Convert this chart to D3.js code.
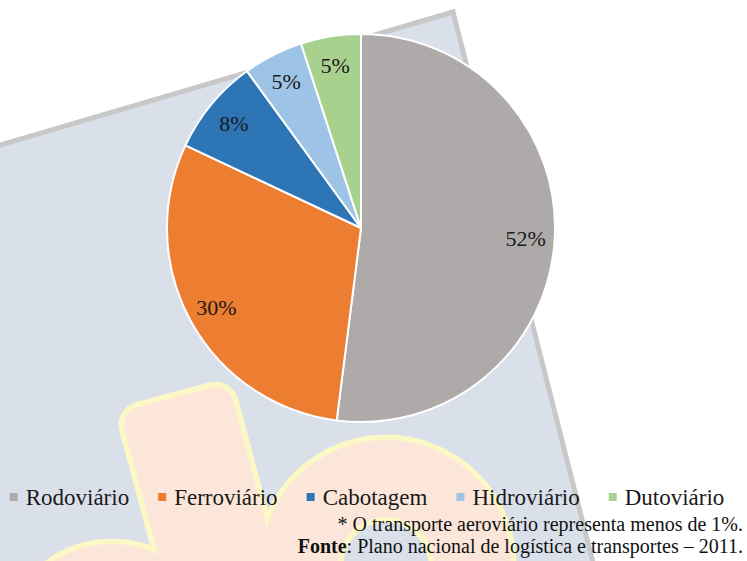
<!DOCTYPE html>
<html><head><meta charset="utf-8">
<script src="https://cdn.jsdelivr.net/npm/d3@7"></script>
<style>body{margin:0;background:#fff}svg{display:block}</style>
</head><body><svg id="c" width="747" height="561"></svg>
<script>
const categories = ["Rodoviário","Ferroviário","Cabotagem","Hidroviário","Dutoviário"];
const values = [52,30,8,5,5];
const colors = ["#AEAAAA","#ED7D31","#2E75B6","#9DC3E6","#A9D18E"];
const note = "* O transporte aeroviário representa menos de 1%.";
const sourceLabel = "Fonte";
const sourceText = ": Plano nacional de logística e transportes – 2011.";

const W = 747, H = 561;
const FONT = '"Liberation Serif", "Times New Roman", serif';
const svg = d3.select("#c");

// background tilted panel
const bg = svg.append("g");
bg.append("path")
  .attr("d", "M-20,151 L453,12 L600,590 L-20,590 Z")
  .attr("fill", "#dae0ea");
bg.append("path")
  .attr("d", "M-20,151 L453,12 L600,590")
  .attr("fill", "none").attr("stroke", "#c8c8c8").attr("stroke-width", 5)
  .attr("stroke-linejoin", "miter");

// faint watermark
const wm = svg.append("g");
function wmShapes(g){
  g.append("rect").attr("x",0).attr("y",0).attr("width",112).attr("height",300).attr("rx",18)
    .attr("transform","translate(120,412) rotate(-15)");
  g.append("circle").attr("cx",112).attr("cy",650).attr("r",106);
  g.append("path").attr("d", d3.arc()({innerRadius:48, outerRadius:125, startAngle:0, endAngle:2*Math.PI}))
    .attr("transform","translate(386,565)");
}
const wmStroke = wm.append("g").attr("fill","none").attr("stroke","#fcf8c6").attr("stroke-width",11);
wmShapes(wmStroke);
const wmFill = wm.append("g").attr("fill","#fbe6d9").attr("stroke","none");
wmShapes(wmFill);

// pie
const cx = 361, cy = 228, R = 194;
const pie = d3.pie().sort(null).value(d => d);
const arcs = pie(values);
const arc = d3.arc().innerRadius(0).outerRadius(R);
const labelArc = d3.arc().innerRadius(165).outerRadius(165);
const color = d3.scaleOrdinal().domain(categories).range(colors);
const pg = svg.append("g").attr("transform", `translate(${cx},${cy})`);
pg.selectAll("path.slice").data(arcs).join("path")
  .attr("class","slice")
  .attr("d", arc)
  .attr("fill", (d,i) => color(categories[i]))
  .attr("stroke", "#ffffff").attr("stroke-width", 2).attr("stroke-linejoin","round");
pg.selectAll("text.lbl").data(arcs).join("text")
  .attr("class","lbl")
  .attr("transform", d => `translate(${labelArc.centroid(d)})`)
  .attr("text-anchor","middle").attr("dy","0.35em")
  .style("font-family", FONT).attr("font-size", 22).attr("fill","#1a1a1a")
  .text(d => Math.round(d.value) + "%");

// legend
const lg = svg.append("g");
const items = lg.selectAll("g").data(categories).join("g");
items.append("rect").attr("width",8).attr("height",8).attr("y",-4)
  .attr("fill", d => color(d));
items.append("text").attr("x",16).attr("y",7.5)
  .style("font-family", FONT).attr("font-size", 23).attr("fill","#1a1a1a")
  .text(d => d);
let x = 0;
const offs = [];
items.each(function(){
  const w = d3.select(this).select("text").node().getComputedTextLength();
  offs.push(x);
  x += 16 + w + 29;
});
const total = x - 29;
const startX = 367 - total/2;
items.attr("transform", (d,i) => `translate(${startX + offs[i]},497)`);

// notes
svg.append("text").attr("x", 743).attr("y", 531).attr("text-anchor","end")
  .style("font-family", FONT).attr("font-size", 20).attr("fill","#111")
  .text(note);
const src = svg.append("text").attr("x", 743).attr("y", 553).attr("text-anchor","end")
  .style("font-family", FONT).attr("font-size", 20).attr("fill","#111");
src.append("tspan").attr("font-weight","bold").text(sourceLabel);
src.append("tspan").text(sourceText);
</script>
</body></html>
